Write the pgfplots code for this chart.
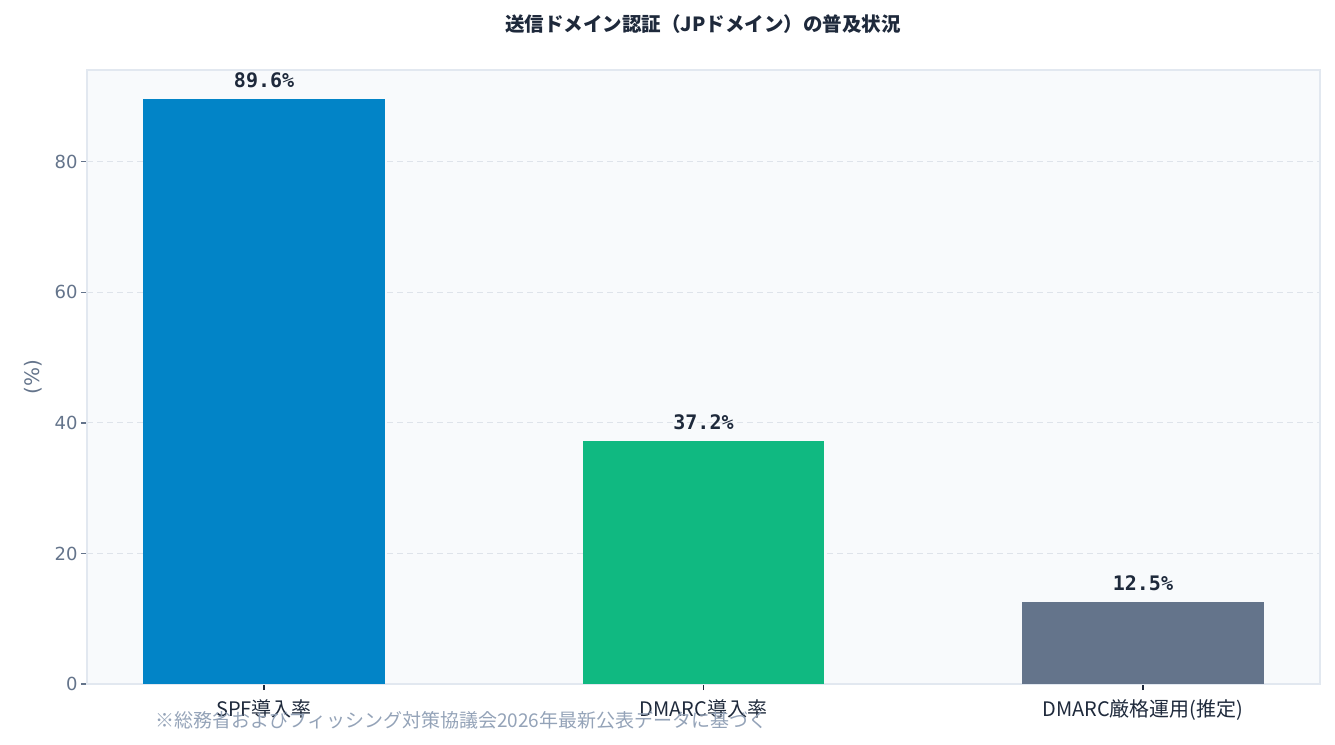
\documentclass[border=0pt]{standalone}
\usepackage{fontspec}
\setmainfont{DejaVu Sans}
\newfontfamily\cjk{Noto Sans CJK JP}
\newfontfamily\valfont{DejaVu Sans Mono}
\usepackage{pgfplots}
\pgfplotsset{compat=1.18}

\definecolor{spfblue}{HTML}{0284C7}
\definecolor{dmarcgreen}{HTML}{10B981}
\definecolor{slategray}{HTML}{64748B}
\definecolor{panelbg}{HTML}{F8FAFC}
\definecolor{edgec}{HTML}{E2E8F0}
\definecolor{darktext}{HTML}{1E293B}
\definecolor{notec}{HTML}{94A3B8}

\begin{document}
\begin{tikzpicture}[x=1pt,y=1pt]
\path[use as bounding box] (0,0) rectangle (1335,744);
\begin{axis}[
    at={(87pt,60pt)}, anchor=south west,
    scale only axis, width=1233pt, height=614pt,
    xmin=-0.403, xmax=2.403,
    ymin=0, ymax=94.08,
    ybar, bar width=0.55,
    /pgf/number format/assume math mode=true,
    axis background/.style={fill=panelbg},
    axis line style={edgec, line width=1.5pt},
    xtick={0,1,2},
    xticklabels={SPF導入率, DMARC導入率, DMARC厳格運用(推定)},
    ytick={0,20,40,60,80},
    xtick pos=bottom, ytick pos=left,
    tick align=outside, major tick length=6pt,
    x tick style={darktext, line width=1.2pt},
    y tick style={slategray, line width=1.2pt},
    ymajorgrids=true,
    grid style={dash pattern=on 6pt off 4pt, edgec!80!slategray!60, line width=1pt},
    y tick label style={font=\fontsize{18}{18}\selectfont, text=slategray},
    x tick label style={font=\cjk\fontsize{20}{20}\selectfont, text=darktext, yshift=-6pt},
    ylabel={(\%)},
    ylabel style={font=\fontsize{20}{20}\selectfont, text=slategray, yshift=6pt},
    nodes near coords={\pgfmathprintnumber[fixed, precision=1, fixed zerofill]{\pgfplotspointmeta}\%},
    every node near coord/.append style={font=\valfont\bfseries\fontsize{20}{20}\selectfont, text=darktext, yshift=8pt},
]
\addplot[fill=spfblue, draw=none, bar shift=0pt] coordinates {(0,89.6)};
\addplot[fill=dmarcgreen, draw=none, bar shift=0pt] coordinates {(1,37.2)};
\addplot[fill=slategray, draw=none, bar shift=0pt] coordinates {(2,12.5)};
\end{axis}
\node[font=\cjk\bfseries\fontsize{19.5}{20}\selectfont, text=darktext] at (703,720) {送信ドメイン認証（JPドメイン）の普及状況};
\node[anchor=west, font=\cjk\fontsize{19}{20}\selectfont, text=notec] at (152,24) {※総務省およびフィッシング対策協議会2026年最新公表データに基づく};
\end{tikzpicture}
\end{document}
